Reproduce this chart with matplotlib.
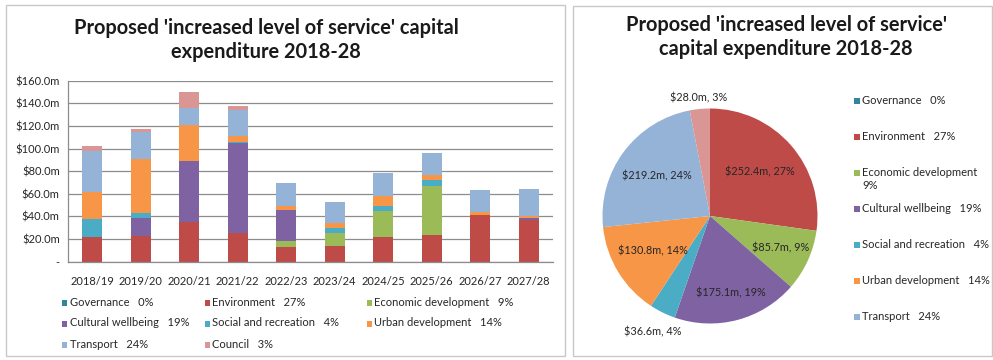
import numpy as np
import matplotlib
matplotlib.use("Agg")
import matplotlib.pyplot as plt
from matplotlib.patches import Rectangle
from matplotlib.ticker import FuncFormatter

plt.rcParams["font.family"] = ["Lato", "DejaVu Sans"]

W, H = 993, 360
TEXT = "#262626"

years = ["2018/19", "2019/20", "2020/21", "2021/22", "2022/23",
         "2023/24", "2024/25", "2025/26", "2026/27", "2027/28"]

categories = ["Governance", "Environment", "Economic development",
              "Cultural wellbeing", "Social and recreation",
              "Urban development", "Transport", "Council"]
shares = [0, 27, 9, 19, 4, 14, 24, 3]
colours = ["#31859C", "#BE4B48", "#9BBB59", "#7F62A1",
           "#4BACC6", "#F79646", "#95B3D7", "#D99694"]

# $m per year, stacked in category order
governance = [0, 0, 0, 0, 0, 0, 0, 0, 0, 0]
environment = [21.5, 23.0, 34.8, 25.0, 12.7, 13.9, 22.1, 23.3, 41.3, 36.8]
economic = [0, 0, 0, 0, 5.6, 11.7, 23.0, 43.9, 0, 0]
cultural = [0, 15.3, 54.2, 80.2, 27.4, 0, 0, 0, 0, 1.5]
social = [15.9, 5.0, 0, 0.8, 0, 3.9, 4.4, 5.0, 0, 0]
urban = [24.2, 47.2, 31.8, 5.0, 3.5, 4.4, 8.5, 4.4, 2.6, 2.1]
transport = [36.5, 24.5, 14.8, 23.0, 20.6, 19.1, 20.1, 19.8, 19.5, 23.8]
council = [4.2, 2.0, 14.1, 3.6, 0, 0, 0, 0, 0, 0]

# 10-year totals ($m)
totals = [0.0, 252.4, 85.7, 175.1, 36.6, 130.8, 219.2, 28.0]


def fx(x):
    return x / W


def fy(y):
    return 1 - y / H


def key(x, y, colour, label, size=8):
    # small square swatch followed by its label, positions in pixels from top-left
    fig.add_artist(Rectangle((fx(x), fy(y + 2.7)), 5.5 / W, 5.5 / H,
                             transform=fig.transFigure, color=colour, lw=0))
    fig.text(fx(x + 8), fy(y - 6.5), label, ha="left", va="top", fontsize=size,
             color=TEXT, linespacing=1.3)


fig = plt.figure(figsize=(W / 100, H / 100), dpi=100)

# panel frames
for x0, y0, x1, y1 in [(6, 5, 565, 356), (573, 6, 992, 356)]:
    fig.add_artist(Rectangle((fx(x0), fy(y1)), (x1 - x0) / W, (y1 - y0) / H,
                             transform=fig.transFigure, fill=False,
                             edgecolor="#c8c8c8", lw=1))

fig.text(fx(266), fy(40), "Proposed 'increased level of service' capital\nexpenditure 2018-28",
         ha="center", va="center", fontsize=14.4, fontweight="bold",
         linespacing=1.25, color="#1a1a1a")
fig.text(fx(786), fy(37), "Proposed 'increased level of service'\ncapital expenditure 2018-28",
         ha="center", va="center", fontsize=14.4, fontweight="bold",
         linespacing=1.25, color="#1a1a1a")

# stacked bars
ax = fig.add_axes([fx(68), fy(261.7), 485 / W, 181 / H])
series = [governance, environment, economic, cultural, social, urban, transport, council]
x = np.arange(len(years))
bottom = np.zeros(len(years))
for vals, col in zip(series, colours):
    vals = np.array(vals, dtype=float)
    ax.bar(x, vals, 0.41, bottom=bottom, color=col, linewidth=0)
    bottom += vals

ax.set_xlim(-0.5, len(years) - 0.5)
ax.set_ylim(0, 160)
ax.set_yticks(np.arange(0, 161, 20))
ax.yaxis.set_major_formatter(FuncFormatter(lambda v, p: "-" if v == 0 else f"${v:.1f}m"))
ax.set_xticks(x)
ax.set_xticklabels(years)
ax.tick_params(axis="both", length=0, labelsize=8, labelcolor=TEXT)
ax.tick_params(axis="x", pad=10)
ax.tick_params(axis="y", pad=6)
ax.yaxis.grid(True, color="#8c8c8c", lw=0.9)
ax.set_axisbelow(True)
for s in ["top", "right"]:
    ax.spines[s].set_visible(False)
for s in ["left", "bottom"]:
    ax.spines[s].set_color("#8c8c8c")
    ax.spines[s].set_linewidth(0.9)

# bar legend, filled row by row
col_x = [61.5, 204.5, 366.5]
for i, (c, p) in enumerate(zip(categories, shares)):
    key(col_x[i % 3], 303 + 21 * (i // 3), colours[i], f"{c}   {p}%")

# pie of 10-year totals
pax = fig.add_axes([fx(602.5), fy(323.5), 215 / W, 215 / H])
wedges, _ = pax.pie(totals, colors=colours, startangle=90, counterclock=False,
                    wedgeprops=dict(linewidth=0))
pax.set_xlim(-1, 1)
pax.set_ylim(-1, 1)
pax.set_aspect("equal")
pax.axis("off")

label_r = [0, 0.62, 0.72, 0.74, 1.2, 0.62, 0.62, 1.1]
for w, v, p, r in zip(wedges, totals, shares, label_r):
    if v == 0:
        continue
    mid = np.deg2rad((w.theta1 + w.theta2) / 2)
    pax.text(r * np.cos(mid), r * np.sin(mid), f"${v:.1f}m, {p}%",
             ha="center", va="center", fontsize=7.8, color=TEXT)

# pie legend (Council has no entry)
pie_labels = ["Governance   0%", "Environment   27%", "Economic development\n9%",
              "Cultural wellbeing   19%", "Social and recreation   4%",
              "Urban development   14%", "Transport   24%"]
for i, lab in enumerate(pie_labels):
    key(854, 101 + 36 * i, colours[i], lab)

fig.savefig("out.png", dpi=100)
